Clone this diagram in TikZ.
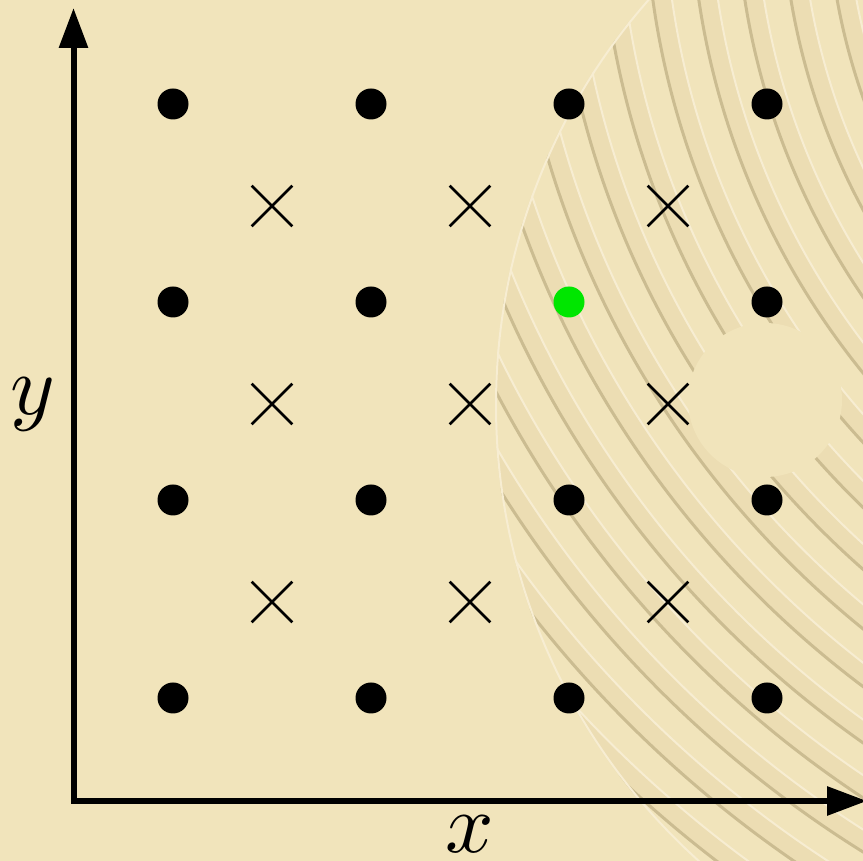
\documentclass[tikz,border=0pt]{standalone}
\usetikzlibrary{arrows.meta,shapes.misc}
\definecolor{cBg}{HTML}{F1E4BB}
\definecolor{cBand}{HTML}{ECDDB3}
\definecolor{cGrain}{HTML}{CBBC91}
\definecolor{cGloss}{HTML}{F7EDD2}
\definecolor{cHit}{RGB}{0,230,0}
\tikzset{
  latpt/.style={circle, fill=black, inner sep=0pt, minimum size=31pt},
  xmark/.style={cross out, draw=black, line width=2.7pt, inner sep=0pt, minimum size=38pt},
  axis/.style={line width=6pt, line join=miter,
               {Triangle[length=40pt,width=28pt]}-{Triangle[length=40pt,width=28pt]}},
  lbl/.style={scale=8.5, inner sep=0pt},
  grain/.style={cGrain, line width=3pt},
  gloss/.style={cGloss, line width=2pt},
}

\begin{document}
\begin{tikzpicture}[x=1pt,y=1pt]
  \useasboundingbox (0,0) rectangle (863,861);
  \fill[cBg] (0,0) rectangle (863,861);

  % wood patch
  \coordinate (wc) at (1110,456);
  \coordinate (rc) at (1464,975);
  \coordinate (knot) at (765,461);
  \begin{scope}
    \clip (wc) circle[radius=615];
    \foreach \k in {-1,...,14} {
      \pgfmathsetmacro\r{637+45.5*\k}
      \fill[cBand, even odd rule] (rc) circle[radius=\r] (rc) circle[radius=\r-19];
      \draw[gloss] (rc) circle[radius=\r-19];
      \draw[grain] (rc) circle[radius=\r];
    }
    \draw[gloss] (wc) circle[radius=614];
    \fill[cBg] (knot) circle[radius=77];
  \end{scope}

  % axes
  \coordinate (origin) at (73.5,60);
  \coordinate (ytip) at (73.5,853);
  \coordinate (xtip) at (867,60);
  \draw[axis] (ytip) -- (origin) -- (xtip);
  \node[lbl] (ylbl) at (33,457) {$y$};
  \node[lbl] (xlbl) at (470,27) {$x$};

  % lattice
  \foreach \i in {0,...,3}
    \foreach \j in {0,...,3} {
      \ifnum\i\j=22 \def\col{cHit}\else\def\col{black}\fi
      \node[latpt, fill=\col] (p\i\j) at ({173+198*\i},{163+198*\j}) {};
    }
  \foreach \i in {0,1,2}
    \foreach \j in {0,1,2}
      \node[xmark] (c\i\j) at ({272+198*\i},{259+198*\j}) {};
\end{tikzpicture}
\end{document}
